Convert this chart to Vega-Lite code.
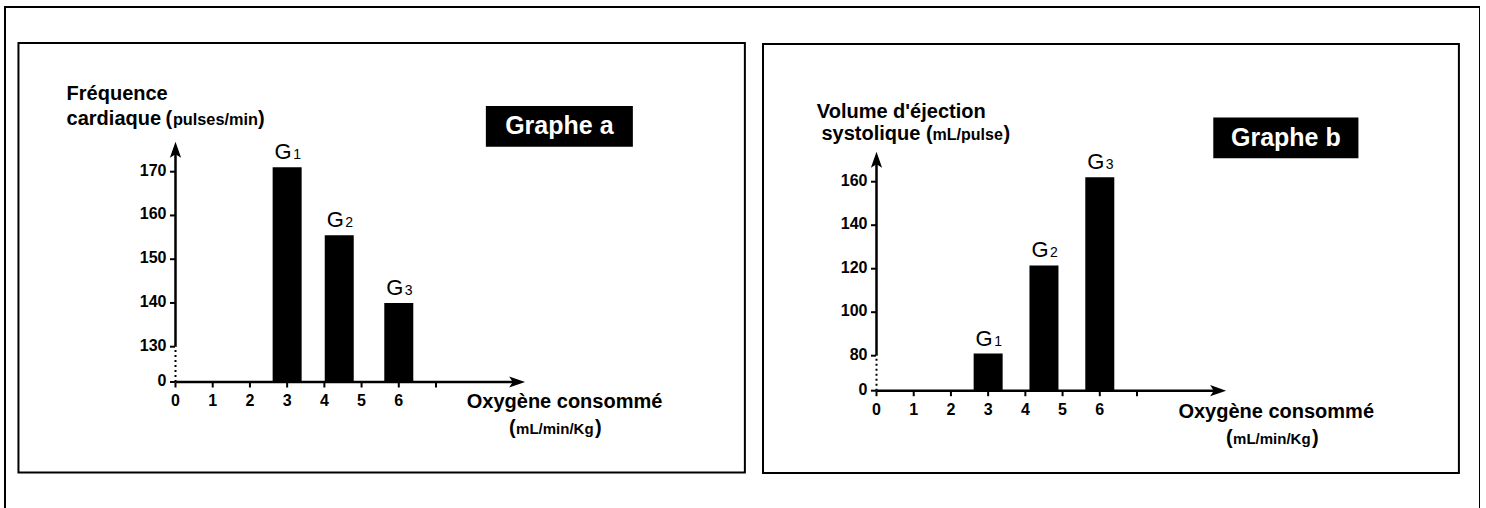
{
  "$schema": "https://vega.github.io/schema/vega-lite/v6.json",
  "width": 1475,
  "height": 510,
  "autosize": {"type": "none"},
  "padding": {"left": 5, "top": 7, "right": 0, "bottom": 0},
  "background": "white",
  "config": {
    "view": {"stroke": "black", "strokeWidth": 2},
    "text": {"font": "Liberation Sans", "fontWeight": "bold", "fontSize": 20, "color": "black", "align": "left", "baseline": "alphabetic"}
  },
  "datasets": {
    "a": [
      {"group": "G1", "n": "1", "oxygen": 3, "value": 171},
      {"group": "G2", "n": "2", "oxygen": 4.4, "value": 155.5},
      {"group": "G3", "n": "3", "oxygen": 6, "value": 140}
    ],
    "b": [
      {"group": "G1", "n": "1", "oxygen": 3, "value": 81},
      {"group": "G2", "n": "2", "oxygen": 4.5, "value": 121.5},
      {"group": "G3", "n": "3", "oxygen": 6, "value": 162}
    ],
    "xticks": [
      {"v": 0, "label": "0"}, {"v": 1, "label": "1"}, {"v": 2, "label": "2"}, {"v": 3, "label": "3"},
      {"v": 4, "label": "4"}, {"v": 5, "label": "5"}, {"v": 6, "label": "6"}, {"v": 7, "label": ""}
    ],
    "yticks_a": [
      {"v": 0, "label": "0"}, {"v": 130, "label": "130"}, {"v": 140, "label": "140"},
      {"v": 150, "label": "150"}, {"v": 160, "label": "160"}, {"v": 170, "label": "170"}
    ],
    "yticks_b": [
      {"v": 0, "label": "0"}, {"v": 80, "label": "80"}, {"v": 100, "label": "100"},
      {"v": 120, "label": "120"}, {"v": 140, "label": "140"}, {"v": 160, "label": "160"}
    ]
  },
  "resolve": {"scale": {"x": "independent", "y": "independent"}},
  "layer": [
    {
      "data": {"name": "a"},
      "layer": [
        {"mark": {"type": "rect", "filled": false, "stroke": "black", "strokeWidth": 2},
         "data": {"values": [{}]},
         "encoding": {"x": {"datum": -4.22, "type": "quantitative", "axis": null}, "x2": {"datum": 15.3}, "y": {"datum": -333, "type": "quantitative", "axis": null}, "y2": {"datum": 199.4}}},
        {"mark": {"type": "bar", "color": "black", "width": 29},
         "encoding": {
           "x": {"field": "oxygen", "type": "quantitative", "scale": {"domain": [0, 7], "range": [170.5, 431], "zero": false, "nice": false, "padding": 0}, "axis": null},
           "y": {"field": "value", "type": "quantitative", "scale": {"domain": [0, 130, 170], "range": [375, 339.7, 164.7], "zero": false, "nice": false, "padding": 0}, "axis": null},
           "y2": {"datum": 0}
         }},
        {"mark": {"type": "rule", "color": "black", "strokeWidth": 2.5},
         "data": {"values": [{}]},
         "encoding": {"x": {"datum": 0, "axis": null}, "x2": {"datum": 9.1}, "y": {"datum": 0, "axis": null}}},
        {"mark": {"type": "rule", "color": "black", "strokeWidth": 2.5},
         "data": {"values": [{}]},
         "encoding": {"x": {"datum": 0, "axis": null}, "y": {"datum": 130, "axis": null}, "y2": {"datum": 175}}},
        {"mark": {"type": "rule", "color": "black", "strokeWidth": 2, "strokeDash": [2, 3]},
         "data": {"values": [{}]},
         "encoding": {"x": {"datum": 0, "axis": null}, "y": {"datum": 0, "axis": null}, "y2": {"datum": 130}}},
        {"mark": {"type": "point", "shape": "M1,0L-1,-0.7L-0.55,0L-1,0.7Z", "filled": true, "size": 256, "color": "black", "opacity": 1, "strokeWidth": 0},
         "data": {"values": [{}]},
         "encoding": {"x": {"datum": 9.18, "axis": null}, "y": {"datum": 0, "axis": null}}},
        {"mark": {"type": "point", "shape": "M0,-1L-0.7,1L0,0.55L0.7,1Z", "filled": true, "size": 256, "color": "black", "opacity": 1, "strokeWidth": 0},
         "data": {"values": [{}]},
         "encoding": {"x": {"datum": 0, "axis": null}, "y": {"datum": 175, "axis": null}}},
        {"mark": {"type": "tick", "orient": "vertical", "color": "black", "size": 5, "thickness": 2, "yOffset": 3, "opacity": 1},
         "data": {"name": "xticks"},
         "encoding": {"x": {"field": "v", "type": "quantitative", "axis": null}, "y": {"datum": 0, "axis": null}}},
        {"mark": {"type": "text", "fontSize": 16, "align": "center", "baseline": "top", "dy": 11},
         "data": {"name": "xticks"},
         "encoding": {"x": {"field": "v", "type": "quantitative", "axis": null}, "y": {"datum": 0, "axis": null}, "text": {"field": "label"}}},
        {"mark": {"type": "tick", "orient": "horizontal", "color": "black", "size": 5, "thickness": 2, "xOffset": -3, "opacity": 1},
         "data": {"name": "yticks_a"},
         "encoding": {"x": {"datum": 0, "axis": null}, "y": {"field": "v", "type": "quantitative", "axis": null}}},
        {"mark": {"type": "text", "fontSize": 16, "align": "right", "baseline": "middle", "dx": -9, "dy": -1},
         "data": {"name": "yticks_a"},
         "encoding": {"x": {"datum": 0, "axis": null}, "y": {"field": "v", "type": "quantitative", "axis": null}, "text": {"field": "label"}}},
        {"mark": {"type": "text", "text": "G", "fontWeight": "normal", "fontSize": 22, "align": "center", "dx": -4, "dy": -8},
         "encoding": {"x": {"field": "oxygen", "type": "quantitative", "axis": null}, "y": {"field": "value", "type": "quantitative", "axis": null}}},
        {"mark": {"type": "text", "fontWeight": "normal", "fontSize": 14, "align": "left", "dx": 6, "dy": -8},
         "encoding": {"x": {"field": "oxygen", "type": "quantitative", "axis": null}, "y": {"field": "value", "type": "quantitative", "axis": null}, "text": {"field": "n"}}},
        {"mark": {"type": "rect", "color": "black"},
         "data": {"values": [{}]},
         "encoding": {"x": {"datum": 8.34, "axis": null}, "x2": {"datum": 12.29}, "y": {"datum": 175.7, "axis": null}, "y2": {"datum": 185.0}}},
        {"mark": {"type": "text", "text": "Graphe a", "color": "white", "fontSize": 25, "align": "center", "baseline": "middle"},
         "data": {"values": [{}]},
         "encoding": {"x": {"datum": 10.315, "axis": null}, "y": {"datum": 180.35, "axis": null}}},
        {"mark": {"type": "text", "text": "Fréquence"},
         "data": {"values": [{}]},
         "encoding": {"x": {"datum": -2.927, "axis": null}, "y": {"datum": 186.4, "axis": null}}},
        {"mark": {"type": "text", "text": "cardiaque"},
         "data": {"values": [{}]},
         "encoding": {"x": {"datum": -2.927, "axis": null}, "y": {"datum": 180.7, "axis": null}}},
        {"mark": {"type": "text", "text": "("},
         "data": {"values": [{}]},
         "encoding": {"x": {"datum": -0.27, "axis": null}, "y": {"datum": 180.7, "axis": null}}},
        {"mark": {"type": "text", "text": "pulses/min", "fontSize": 16.3},
         "data": {"values": [{}]},
         "encoding": {"x": {"datum": -0.07, "axis": null}, "y": {"datum": 180.7, "axis": null}}},
        {"mark": {"type": "text", "text": ")"},
         "data": {"values": [{}]},
         "encoding": {"x": {"datum": 2.22, "axis": null}, "y": {"datum": 180.7, "axis": null}}},
        {"mark": {"type": "text", "text": "Oxygène consommé"},
         "data": {"values": [{}]},
         "encoding": {"x": {"datum": 7.826, "axis": null}, "y": {"datum": -96.9, "axis": null}}},
        {"mark": {"type": "text", "text": "("},
         "data": {"values": [{}]},
         "encoding": {"x": {"datum": 8.963, "axis": null}, "y": {"datum": -191.5, "axis": null}}},
        {"mark": {"type": "text", "text": "mL/min/Kg", "fontSize": 15},
         "data": {"values": [{}]},
         "encoding": {"x": {"datum": 9.151, "axis": null}, "y": {"datum": -191.5, "axis": null}}},
        {"mark": {"type": "text", "text": ")"},
         "data": {"values": [{}]},
         "encoding": {"x": {"datum": 11.27, "axis": null}, "y": {"datum": -191.5, "axis": null}}}
      ]
    },
    {
      "data": {"name": "b"},
      "layer": [
        {"mark": {"type": "rect", "filled": false, "stroke": "black", "strokeWidth": 2},
         "data": {"values": [{}]},
         "encoding": {"x": {"datum": -3.05, "type": "quantitative", "axis": null}, "x2": {"datum": 15.65}, "y": {"datum": -188.1, "type": "quantitative", "axis": null}, "y2": {"datum": 223.3}}},
        {"mark": {"type": "bar", "color": "black", "width": 29},
         "encoding": {
           "x": {"field": "oxygen", "type": "quantitative", "scale": {"domain": [0, 7], "range": [871.5, 1132], "zero": false, "nice": false, "padding": 0}, "axis": null},
           "y": {"field": "value", "type": "quantitative", "scale": {"domain": [0, 80, 160], "range": [383.7, 348.7, 174.7], "zero": false, "nice": false, "padding": 0}, "axis": null},
           "y2": {"datum": 0}
         }},
        {"mark": {"type": "rule", "color": "black", "strokeWidth": 2.5},
         "data": {"values": [{}]},
         "encoding": {"x": {"datum": 0, "axis": null}, "x2": {"datum": 9.1}, "y": {"datum": 0, "axis": null}}},
        {"mark": {"type": "rule", "color": "black", "strokeWidth": 2.5},
         "data": {"values": [{}]},
         "encoding": {"x": {"datum": 0, "axis": null}, "y": {"datum": 80, "axis": null}, "y2": {"datum": 170}}},
        {"mark": {"type": "rule", "color": "black", "strokeWidth": 2, "strokeDash": [2, 3]},
         "data": {"values": [{}]},
         "encoding": {"x": {"datum": 0, "axis": null}, "y": {"datum": 0, "axis": null}, "y2": {"datum": 80}}},
        {"mark": {"type": "point", "shape": "M1,0L-1,-0.7L-0.55,0L-1,0.7Z", "filled": true, "size": 256, "color": "black", "opacity": 1, "strokeWidth": 0},
         "data": {"values": [{}]},
         "encoding": {"x": {"datum": 9.18, "axis": null}, "y": {"datum": 0, "axis": null}}},
        {"mark": {"type": "point", "shape": "M0,-1L-0.7,1L0,0.55L0.7,1Z", "filled": true, "size": 256, "color": "black", "opacity": 1, "strokeWidth": 0},
         "data": {"values": [{}]},
         "encoding": {"x": {"datum": 0, "axis": null}, "y": {"datum": 170.1, "axis": null}}},
        {"mark": {"type": "tick", "orient": "vertical", "color": "black", "size": 5, "thickness": 2, "yOffset": 3, "opacity": 1},
         "data": {"name": "xticks"},
         "encoding": {"x": {"field": "v", "type": "quantitative", "axis": null}, "y": {"datum": 0, "axis": null}}},
        {"mark": {"type": "text", "fontSize": 16, "align": "center", "baseline": "top", "dy": 11},
         "data": {"name": "xticks"},
         "encoding": {"x": {"field": "v", "type": "quantitative", "axis": null}, "y": {"datum": 0, "axis": null}, "text": {"field": "label"}}},
        {"mark": {"type": "tick", "orient": "horizontal", "color": "black", "size": 5, "thickness": 2, "xOffset": -3, "opacity": 1},
         "data": {"name": "yticks_b"},
         "encoding": {"x": {"datum": 0, "axis": null}, "y": {"field": "v", "type": "quantitative", "axis": null}}},
        {"mark": {"type": "text", "fontSize": 16, "align": "right", "baseline": "middle", "dx": -9, "dy": -1},
         "data": {"name": "yticks_b"},
         "encoding": {"x": {"datum": 0, "axis": null}, "y": {"field": "v", "type": "quantitative", "axis": null}, "text": {"field": "label"}}},
        {"mark": {"type": "text", "text": "G", "fontWeight": "normal", "fontSize": 22, "align": "center", "dx": -4, "dy": -8},
         "encoding": {"x": {"field": "oxygen", "type": "quantitative", "axis": null}, "y": {"field": "value", "type": "quantitative", "axis": null}}},
        {"mark": {"type": "text", "fontWeight": "normal", "fontSize": 14, "align": "left", "dx": 6, "dy": -8},
         "encoding": {"x": {"field": "oxygen", "type": "quantitative", "axis": null}, "y": {"field": "value", "type": "quantitative", "axis": null}, "text": {"field": "n"}}},
        {"mark": {"type": "rect", "color": "black"},
         "data": {"values": [{}]},
         "encoding": {"x": {"datum": 9.05, "axis": null}, "x2": {"datum": 12.95}, "y": {"datum": 170.8, "axis": null}, "y2": {"datum": 189.5}}},
        {"mark": {"type": "text", "text": "Graphe b", "color": "white", "fontSize": 25, "align": "center", "baseline": "middle"},
         "data": {"values": [{}]},
         "encoding": {"x": {"datum": 11.0, "axis": null}, "y": {"datum": 180.15, "axis": null}}},
        {"mark": {"type": "text", "text": "Volume d'éjection"},
         "data": {"values": [{}]},
         "encoding": {"x": {"datum": -1.604, "axis": null}, "y": {"datum": 189.1, "axis": null}}},
        {"mark": {"type": "text", "text": "systolique"},
         "data": {"values": [{}]},
         "encoding": {"x": {"datum": -1.478, "axis": null}, "y": {"datum": 179.2, "axis": null}}},
        {"mark": {"type": "text", "text": "("},
         "data": {"values": [{}]},
         "encoding": {"x": {"datum": 1.33, "axis": null}, "y": {"datum": 179.2, "axis": null}}},
        {"mark": {"type": "text", "text": "mL/pulse", "fontSize": 16},
         "data": {"values": [{}]},
         "encoding": {"x": {"datum": 1.508, "axis": null}, "y": {"datum": 179.2, "axis": null}}},
        {"mark": {"type": "text", "text": ")"},
         "data": {"values": [{}]},
         "encoding": {"x": {"datum": 3.413, "axis": null}, "y": {"datum": 179.2, "axis": null}}},
        {"mark": {"type": "text", "text": "Oxygène consommé"},
         "data": {"values": [{}]},
         "encoding": {"x": {"datum": 8.112, "axis": null}, "y": {"datum": -63.1, "axis": null}}},
        {"mark": {"type": "text", "text": "("},
         "data": {"values": [{}]},
         "encoding": {"x": {"datum": 9.393, "axis": null}, "y": {"datum": -121.8, "axis": null}}},
        {"mark": {"type": "text", "text": "mL/min/Kg", "fontSize": 15},
         "data": {"values": [{}]},
         "encoding": {"x": {"datum": 9.581, "axis": null}, "y": {"datum": -121.8, "axis": null}}},
        {"mark": {"type": "text", "text": ")"},
         "data": {"values": [{}]},
         "encoding": {"x": {"datum": 11.7, "axis": null}, "y": {"datum": -121.8, "axis": null}}}
      ]
    }
  ]
}
